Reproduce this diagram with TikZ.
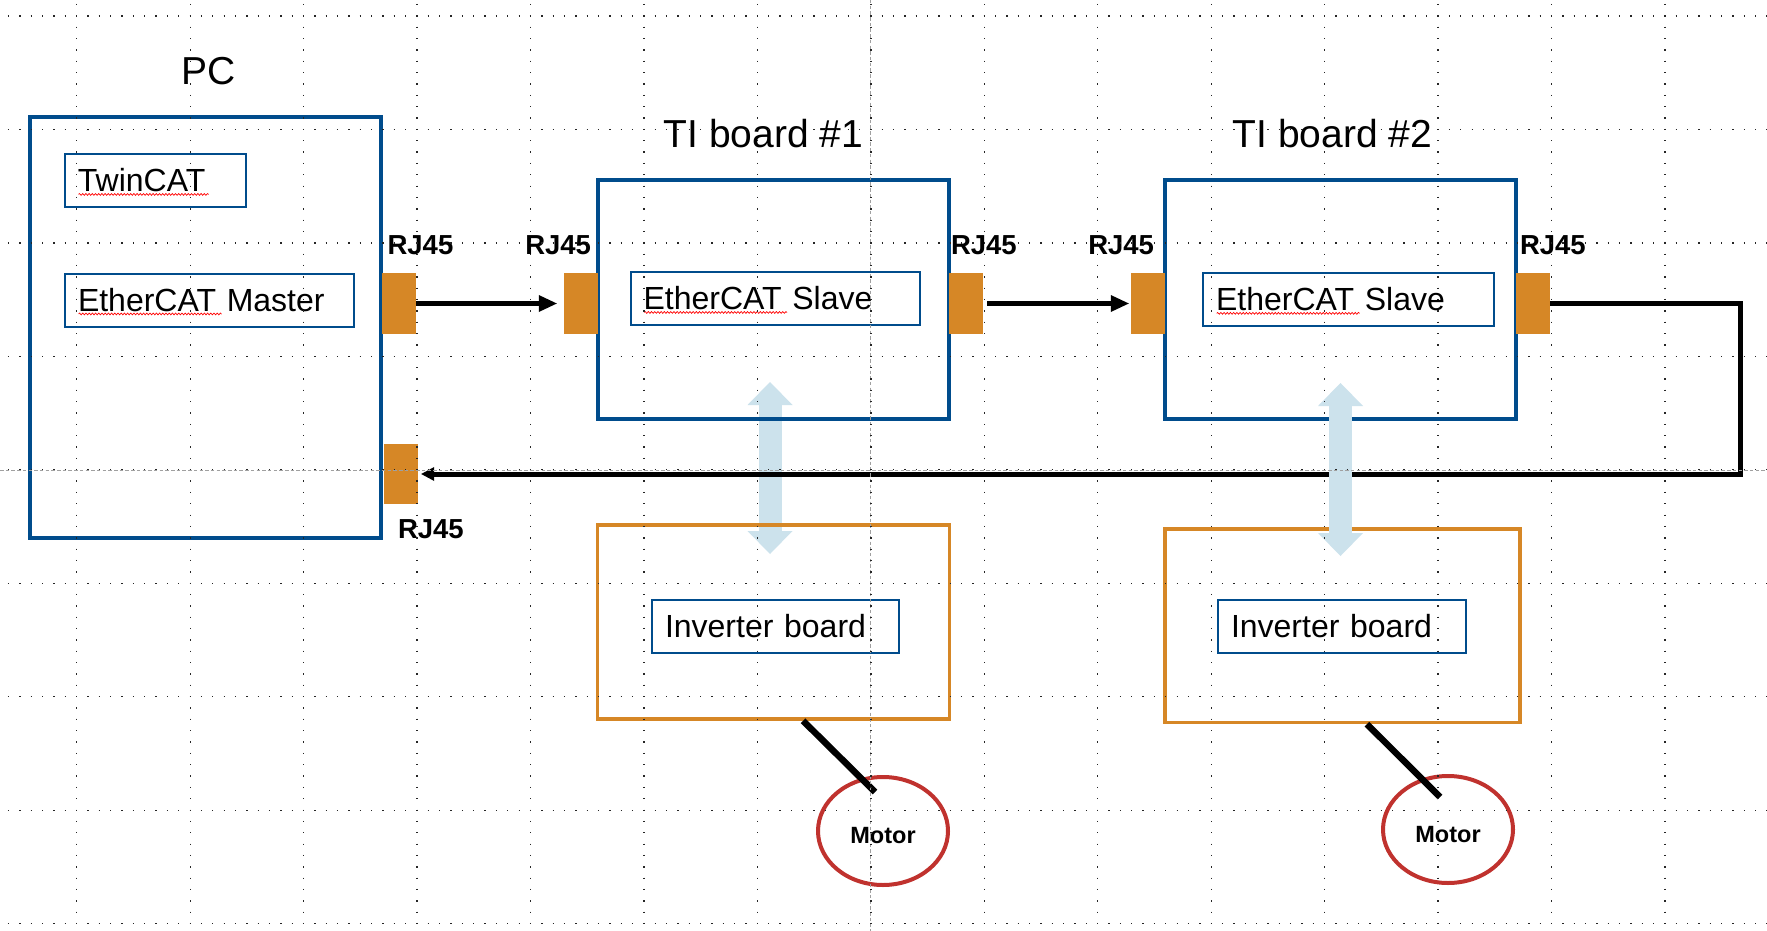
\documentclass[tikz,border=0pt]{standalone}
\usepackage{fontspec}
\setmainfont{Liberation Sans}
\usepackage{tikz}
\usetikzlibrary{positioning,arrows.meta,shapes.geometric,calc,decorations.pathmorphing}
\definecolor{boardblue}{RGB}{0,76,140}
\definecolor{portorange}{RGB}{214,135,38}
\definecolor{linkblue}{RGB}{204,226,236}
\definecolor{motorred}{RGB}{192,50,46}
\definecolor{guidegray}{RGB}{160,160,160}
\tikzset{
  unit/.style     = {rectangle, draw=boardblue, line width=3.5pt, inner sep=0pt},
  invunit/.style  = {rectangle, draw=portorange, line width=3.5pt, inner sep=0pt},
  sw/.style       = {rectangle, draw=boardblue, line width=2pt, inner xsep=13pt,
                     inner ysep=0pt, align=left, minimum height=53pt,
                     font=\fontsize{32}{38}\selectfont},
  port/.style     = {rectangle, fill=portorange, minimum width=34pt,
                     minimum height=61pt, inner sep=0pt},
  rj/.style       = {inner sep=0pt, font=\fontsize{27.5}{31}\selectfont\bfseries},
  ttl/.style      = {inner sep=0pt, font=\fontsize{39}{45}\selectfont},
  motor/.style    = {ellipse, draw=motorred, line width=4pt, minimum width=130pt,
                     minimum height=108pt, inner sep=0pt, text height=25pt, text depth=0pt,
                     font=\fontsize{23.5}{28}\selectfont\bfseries},
  flow/.style     = {-{Triangle[length=18pt,width=17pt,line width=0pt]}, line width=5pt},
  flowback/.style = {-{Triangle[length=13pt,width=14pt,line width=0pt]}, line width=5pt},
  link/.style     = {draw=linkblue, line width=23pt,
                     {Triangle[length=23pt,width=45pt,line width=0pt]}-{Triangle[length=23pt,width=45pt,line width=0pt]}},
  cable/.style    = {line width=6.5pt},
  spell/.style    = {draw=red, line width=0.7pt, decorate,
                     decoration={snake, amplitude=0.9pt, segment length=3.2pt}},
  guide/.style    = {draw=guidegray, line width=1pt, dash pattern=on 3.5pt off 2.2pt},
  gridrow/.style  = {draw=black!85, line width=1.3pt, dash pattern=on 1.3pt off 10.045pt},
}
\begin{document}
\begin{tikzpicture}[x=1pt, y=-1pt]
  \path[use as bounding box, fill=white] (0,0) rectangle (1767,931);

  % link to inverter 1 sits behind the boxes
  \coordinate (lk1a) at (770,382);
  \coordinate (lk1b) at (770,554);
  \draw[link] (lk1a) -- (lk1b);

  % PC
  \node[unit, minimum width=351pt, minimum height=421pt] (pc) at (205.5,327.5) {};
  \node[ttl, anchor=base] (pcttl) at ([xshift=3.5pt,yshift=31pt]pc.north) {PC};
  \node[sw, text width=155pt] (twincat) at (155.4,180.5) {TwinCAT};
  \node[sw, text width=263pt] (master) at (209.5,300) {EtherCAT Master};

  % TI boards
  \node[unit, minimum width=351pt, minimum height=239pt] (board1) at (773.5,299.5) {};
  \node[unit, minimum width=351pt, minimum height=239pt] (board2) at (1340.5,299.5) {};
  \node[ttl, anchor=base] (b1ttl) at ([xshift=-10pt,yshift=30.3pt]board1.north) {TI board \#1};
  \node[ttl, anchor=base] (b2ttl) at ([xshift=-8pt,yshift=30.3pt]board2.north) {TI board \#2};
  \node[sw, text width=263.5pt] (slave1) at (775.3,298.5) {EtherCAT Slave};
  \node[sw, text width=264.5pt] (slave2) at (1348.3,299.4) {EtherCAT Slave};

  % RJ45 ports
  \node[port] (pcout) at (399,303.5) {};
  \node[port] (b1in) at (581,303.5) {};
  \node[port] (b1out) at (966,303.5) {};
  \node[port] (b2in) at (1148,303.5) {};
  \node[port] (b2out) at (1533,303.5) {};
  \node[port, minimum height=60pt] (pcret) at (401,474) {};
  \node[rj, anchor=base west] (pcoutlbl) at ([xshift=5.6pt,yshift=18pt]pcout.north west) {RJ45};
  \node[rj, anchor=base east] (b1inlbl) at ([xshift=-7pt,yshift=18pt]b1in.north east) {RJ45};
  \node[rj, anchor=base west] (b1outlbl) at ([xshift=2pt,yshift=18pt]b1out.north west) {RJ45};
  \node[rj, anchor=base east] (b2inlbl) at ([xshift=-11pt,yshift=18pt]b2in.north east) {RJ45};
  \node[rj, anchor=base west] (b2outlbl) at ([xshift=4pt,yshift=18pt]b2out.north west) {RJ45};
  \node[rj, anchor=base west] (pcretlbl) at ([xshift=14pt,yshift=-34pt]pcret.south west) {RJ45};

  % inverters and motors
  \node[invunit, minimum width=352pt, minimum height=194pt] (inv1) at (773.5,622) {};
  \node[invunit, minimum width=355pt, minimum height=193.5pt] (inv2) at (1342.5,625.7) {};
  \node[sw, text width=221pt] (invb1) at (775.5,626.5) {Inverter board};
  \node[sw, text width=222pt] (invb2) at (1342,626.3) {Inverter board};
  \node[motor] (mot1) at (883,831) {Motor};
  \node[motor, minimum height=107pt] (mot2) at (1448,829.5) {Motor};
  \draw[cable] ([xshift=29.5pt]inv1.south) -- ([shift={(-8,-39)}]mot1.center);
  \draw[cable] ([xshift=24.5pt]inv2.south) -- ([shift={(-8,-32.5)}]mot2.center);

  % EtherCAT ring
  \draw[flow, shorten >=7pt] (pcout) -- (b1in);
  \draw[flow, shorten <=4pt, shorten >=2pt] (b1out) -- (b2in);
  \coordinate (ringx) at (1740,474);
  \draw[flowback, shorten >=3pt] (b2out.east) -| (ringx) -- (pcret.east);

  % link to inverter 2 lies on top
  \coordinate (lk2a) at (1340.5,383);
  \coordinate (lk2b) at (1340.5,556);
  \draw[link] (lk2a) -- (lk2b);

  % spell-check marks
  \draw[spell] ([xshift=14.6pt,yshift=-2.5pt]twincat.base west) -- ++(130,0);
  \draw[spell] ([xshift=14.6pt,yshift=-2.5pt]master.base west) -- ++(143,0);
  \draw[spell] ([xshift=14.6pt,yshift=-2.5pt]slave1.base west) -- ++(143,0);
  \draw[spell] ([xshift=14.6pt,yshift=-2.5pt]slave2.base west) -- ++(143,0);

  % guides and grid
  \draw[guide] (870.5,0) -- (870.5,931);
  \draw[guide] (0,470.5) -- (1767,470.5);
  \foreach \gy in {0,...,8}
    \draw[gridrow] (7.98,{16+113.45*\gy}) -- (1767,{16+113.45*\gy});
  \foreach \gx in {0,...,14}
    \draw[gridrow] ({76.7+113.45*\gx},4.0) -- ({76.7+113.45*\gx},931);
\end{tikzpicture}
\end{document}
